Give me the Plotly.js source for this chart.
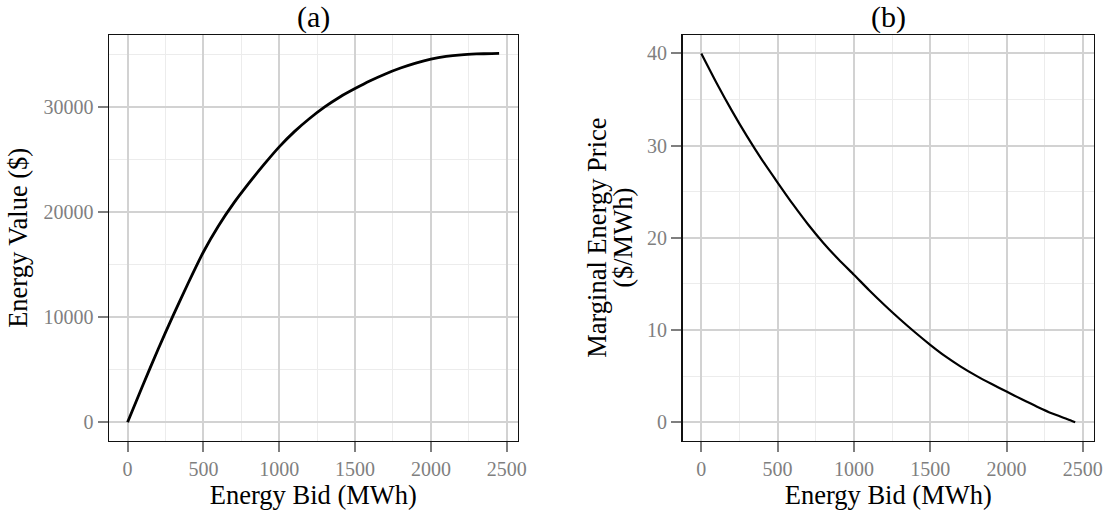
<!DOCTYPE html>
<html>
<head>
<meta charset="utf-8">
<script src="https://cdn.plot.ly/plotly-3.0.1.min.js"></script>
<style>html,body{margin:0;padding:0;background:#fff;}#chart{width:1109px;height:516px;}</style>
</head>
<body>
<div id="chart"></div>
<script>
// Energy bid (MWh) sampled along the curves
const energyBid = [0, 100, 200, 300, 400, 500, 600, 700, 800, 900, 1000, 1100, 1200, 1300, 1400, 1500, 1600, 1700, 1800, 1900, 2000, 2100, 2200, 2300, 2400, 2450];
// (a) Energy value ($)
const energyValue = [0, 3500, 6900, 10150, 13250, 16200, 18700, 20850, 22750, 24530, 26200, 27650, 28900, 30000, 30950, 31750, 32490, 33140, 33700, 34170, 34550, 34810, 34960, 35040, 35080, 35090];
// (b) Marginal energy price ($/MWh)
const marginalPrice = [40.0, 36.8, 33.8, 31.0, 28.4, 26.0, 23.65, 21.45, 19.45, 17.65, 16.0, 14.32, 12.72, 11.2, 9.76, 8.4, 7.14, 6.04, 5.06, 4.17, 3.33, 2.49, 1.69, 0.95, 0.33, 0.0];

const xTicks = [0, 500, 1000, 1500, 2000, 2500];
const yTicksA = [0, 10000, 20000, 30000];
const yTicksB = [0, 10, 20, 30, 40];

const panelTitles = ['(a)', '(b)'];
const xTitle = 'Energy Bid (MWh)';
const yTitleA = 'Energy Value ($)';
const yTitleBLines = ['Marginal Energy Price', '($/MWh)'];

const FONT = 'Liberation Serif, Times New Roman, serif';
const tickFont = {family: FONT, size: 20, color: '#7f7f7f'};
const axisTitleFont = {family: FONT, size: 26.5, color: '#000'};
const panelTitleFont = {family: FONT, size: 30, color: '#000'};

function axisBase(domain, range, ticks) {
  return {
    domain: domain,
    range: range,
    tickmode: 'array',
    tickvals: ticks,
    ticktext: ticks.map(String),
    ticks: 'outside',
    ticklen: 10,
    tickwidth: 2,
    tickcolor: '#7f7f7f',
    tickfont: tickFont,
    showgrid: true,
    gridcolor: '#d2d2d2',
    gridwidth: 2,
    zeroline: false,
    showline: true,
    linecolor: '#111',
    linewidth: 1.5,
    mirror: true,
    automargin: false
  };
}

const W = 1109, H = 516;
const yDom = [(H - 440.7) / H, (H - 35) / H];
const xDomA = [109 / W, 517.7 / W];
const xDomB = [682.6 / W, 1093.9 / W];

const xr = [-122.5, 2572.5];
const maxA = Math.max(...energyValue);
const maxB = Math.max(...marginalPrice);
const yrA = [-0.05 * maxA, 1.05 * maxA];
const yrB = [-0.05 * maxB, 1.05 * maxB];

const traces = [
  {x: energyBid, y: energyValue, xaxis: 'x', yaxis: 'y', mode: 'lines', line: {color: '#000', width: 2.8, shape: 'spline', smoothing: 0.6}, hoverinfo: 'x+y', showlegend: false},
  {x: energyBid, y: marginalPrice, xaxis: 'x2', yaxis: 'y2', mode: 'lines', line: {color: '#000', width: 2.2, shape: 'spline', smoothing: 0.6}, hoverinfo: 'x+y', showlegend: false}
];

const xa = axisBase(xDomA, xr, xTicks);
xa.anchor = 'y';
xa.minor = {dtick: 250, tick0: 0, showgrid: true, gridcolor: '#ececec', gridwidth: 1, ticks: ''};
xa.title = {text: xTitle, font: axisTitleFont, standoff: 3};
const ya = axisBase(yDom, yrA, yTicksA);
ya.anchor = 'x';
ya.minor = {dtick: 5000, tick0: 0, showgrid: true, gridcolor: '#ececec', gridwidth: 1, ticks: ''};
ya.title = {text: yTitleA, font: axisTitleFont, standoff: 8};

const xb = axisBase(xDomB, xr, xTicks);
xb.anchor = 'y2';
xb.minor = {dtick: 250, tick0: 0, showgrid: true, gridcolor: '#ececec', gridwidth: 1, ticks: ''};
xb.title = {text: xTitle, font: axisTitleFont, standoff: 3};
const yb = axisBase(yDom, yrB, yTicksB);
yb.anchor = 'x2';
yb.minor = {dtick: 5, tick0: 0, showgrid: true, gridcolor: '#ececec', gridwidth: 1, ticks: ''};

const yMid = (yDom[0] + yDom[1]) / 2;

const layout = {
  width: W, height: H,
  margin: {l: 0, r: 0, t: 0, b: 0},
  paper_bgcolor: '#fff',
  plot_bgcolor: '#fff',
  font: {family: FONT},
  showlegend: false,
  xaxis: xa, yaxis: ya, xaxis2: xb, yaxis2: yb,
  annotations: [
    {text: panelTitles[0], x: (xDomA[0] + xDomA[1]) / 2, y: (H - 17) / H, xref: 'paper', yref: 'paper', xanchor: 'center', yanchor: 'middle', showarrow: false, font: panelTitleFont},
    {text: panelTitles[1], x: (xDomB[0] + xDomB[1]) / 2, y: (H - 17) / H, xref: 'paper', yref: 'paper', xanchor: 'center', yanchor: 'middle', showarrow: false, font: panelTitleFont},
    {text: yTitleBLines[0], x: 597 / W, y: yMid, xref: 'paper', yref: 'paper', xanchor: 'center', yanchor: 'middle', textangle: -90, showarrow: false, font: axisTitleFont},
    {text: yTitleBLines[1], x: 623 / W, y: yMid, xref: 'paper', yref: 'paper', xanchor: 'center', yanchor: 'middle', textangle: -90, showarrow: false, font: axisTitleFont}
  ]
};

Plotly.newPlot('chart', traces, layout, {displayModeBar: false, staticPlot: true});
</script>
</body>
</html>
